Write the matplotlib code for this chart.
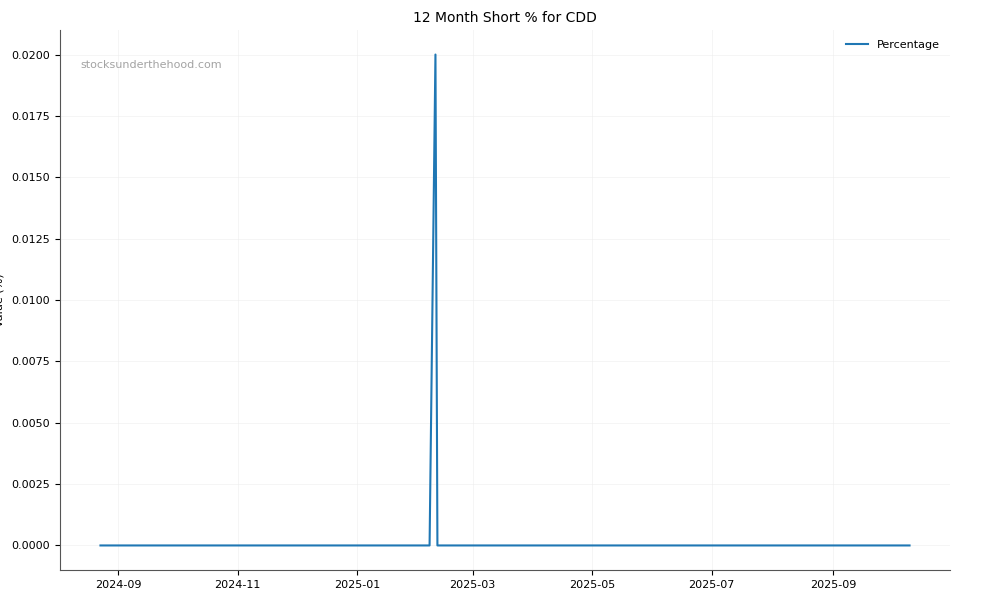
import matplotlib
matplotlib.use("Agg")
import matplotlib.pyplot as plt
import matplotlib.dates as mdates
import pandas as pd

dates = ["2024-08-23", "2025-02-07", "2025-02-10", "2025-02-11", "2025-10-10"]
values = [0.0, 0.0, 0.02, 0.0, 0.0]
series_name = "Percentage"
title = "12 Month Short % for CDD"
ylabel = "Value (%)"
watermark = "stocksunderthehood.com"

x = pd.to_datetime(dates)

fig = plt.figure(figsize=(10, 6), dpi=100)
ax = fig.add_axes([0.06, 0.05, 0.89, 0.90])
ax.plot(x, values, color="#1f77b4", linewidth=1.5, label=series_name)

ax.set_title(title, fontsize=10)
ax.set_ylabel(ylabel, fontsize=8)
ax.yaxis.set_label_coords(-0.062, 0.5)
ax.grid(True, color="#eeeeee", linewidth=0.6, alpha=0.7)
for s in ["top", "right"]:
    ax.spines[s].set_visible(False)
for s in ["left", "bottom"]:
    ax.spines[s].set_color("#555555")
ax.tick_params(labelsize=8)

ax.xaxis.set_major_locator(mdates.MonthLocator(bymonth=[1, 3, 5, 7, 9, 11]))
ax.xaxis.set_major_formatter(mdates.DateFormatter("%Y-%m"))
ax.yaxis.set_major_formatter(matplotlib.ticker.FormatStrFormatter("%.4f"))

ax.text(0.023, 0.935, watermark, transform=ax.transAxes, fontsize=8,
        color="#999999", alpha=0.9, va="center", ha="left")
ax.legend(loc="upper right", frameon=False, fontsize=8)

fig.savefig("out.png", dpi=100)
